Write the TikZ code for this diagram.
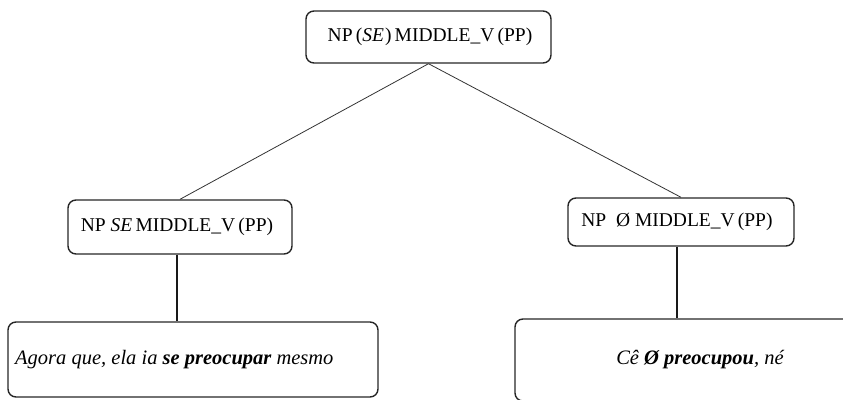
\documentclass[tikz,border=0pt]{standalone}
\usepackage{fontspec}
\setmainfont{Liberation Serif}[
  BoldFont={Liberation Serif Bold},
  ItalicFont={Liberation Serif Italic},
  BoldItalicFont={Liberation Serif Bold Italic}]
\begin{document}
\begin{tikzpicture}[x=1pt,y=-1pt,
  box/.style={draw=black!85,line width=1.4pt,rounded corners=8pt,inner sep=0pt},
  thin/.style={draw=black!80,line width=0.8pt},
  thick/.style={draw=black!90,line width=1.5pt},
  lbl/.style={font=\fontsize{19.5}{22}\selectfont},
  big/.style={font=\fontsize{20.5}{24}\selectfont}]
\useasboundingbox (0,0) rectangle (843,399);
\node[box,minimum width=245pt,minimum height=52pt] (top) at (428.5,37) {};
\node[lbl] at (430,37) {NP\,(\textit{SE}\kern1pt)\,MIDDLE\_V\,(PP)};
\node[box,minimum width=224pt,minimum height=54pt] (lm) at (180,227) {};
\node[lbl] at (177,227) {NP \textit{SE}\,MIDDLE\_V\,(PP)};
\node[box,minimum width=226pt,minimum height=48pt] (rm) at (681,222) {};
\node[lbl] at (677,222) {NP\ \ Ø MIDDLE\_V\,(PP)};
\node[box,minimum width=370pt,minimum height=75pt] (bl) at (193,359.5) {};
\node[big,anchor=west,inner sep=0pt] at (15,360) {\itshape Agora que, ela ia \textbf{se preocupar} mesmo};
\node[box,minimum width=370pt,minimum height=82pt] (br) at (700,360) {};
\node[big] at (700,360) {\itshape Cê \textbf{Ø preocupou}, né};
\draw[thin] (top.south) -- (lm.north);
\draw[thin] (top.south) -- (rm.north);
\draw[thick] ([xshift=-3pt]lm.south) -- ([xshift=-3pt]lm.south |- bl.north);
\draw[thick] ([xshift=-4pt]rm.south) -- ([xshift=-4pt]rm.south |- br.north);
\end{tikzpicture}
\end{document}
